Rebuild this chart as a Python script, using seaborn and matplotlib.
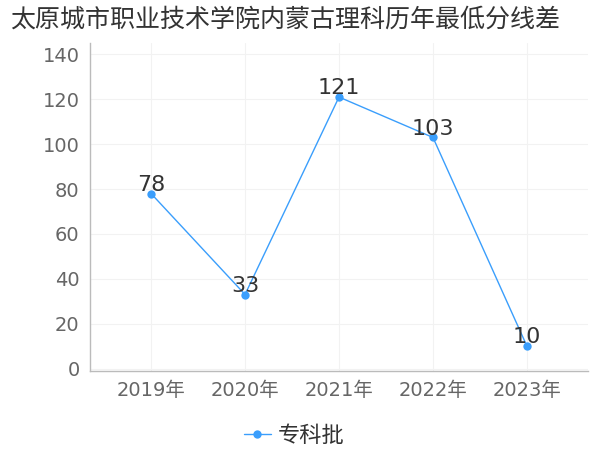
import matplotlib
matplotlib.use("Agg")
import matplotlib.pyplot as plt
import seaborn as sns
import pandas as pd

years = ["2019年", "2020年", "2021年", "2022年", "2023年"]
values = [78, 33, 121, 103, 10]
series_name = "专科批"
title = "太原城市职业技术学院内蒙古理科历年最低分线差"

sns.set_theme(style="white")
plt.rcParams['font.family'] = ['DejaVu Sans', 'Noto Sans CJK SC']

df = pd.DataFrame({"year": years, "value": values, "series": series_name})

fig = plt.figure(figsize=(6, 4.5), dpi=100)
ax = fig.add_axes([0.15, 0.176, 0.83, 0.728])
color = "#3a9efc"
sns.lineplot(data=df, x="year", y="value", hue="series", palette=[color],
             marker="o", markersize=6, markeredgewidth=0, linewidth=1, ax=ax, sort=False)

for i, v in enumerate(values):
    ax.text(i, v - 0.5, str(v), ha="center", va="bottom", fontsize=16, color="#333333")

ax.set_xlim(-0.65, 4.65)
ax.set_ylim(-1, 145)
ax.set_yticks(range(0, 141, 20))
ax.grid(True, color="#f2f2f2", linewidth=0.8)
ax.set_axisbelow(True)
for s in ["top", "right"]:
    ax.spines[s].set_visible(False)
for s in ["left", "bottom"]:
    ax.spines[s].set_color("#bbbbbb")
    ax.spines[s].set_linewidth(1)
ax.tick_params(axis="both", colors="#666666", labelsize=14, length=4, width=0.8)
ax.set_xlabel("")
ax.set_ylabel("")
fig.suptitle(title, x=0.475, y=0.985, fontsize=18, color="#333333",
             family=['Noto Sans CJK SC', 'DejaVu Sans'])

leg = ax.legend(loc="upper center", bbox_to_anchor=(0.41, -0.1), frameon=False,
                prop={'family': ['Noto Sans CJK SC', 'DejaVu Sans'], 'size': 16},
                handlelength=1.2, handletextpad=0.3)
for t in leg.get_texts():
    t.set_color("#333333")

fig.savefig("out.png", dpi=100)
